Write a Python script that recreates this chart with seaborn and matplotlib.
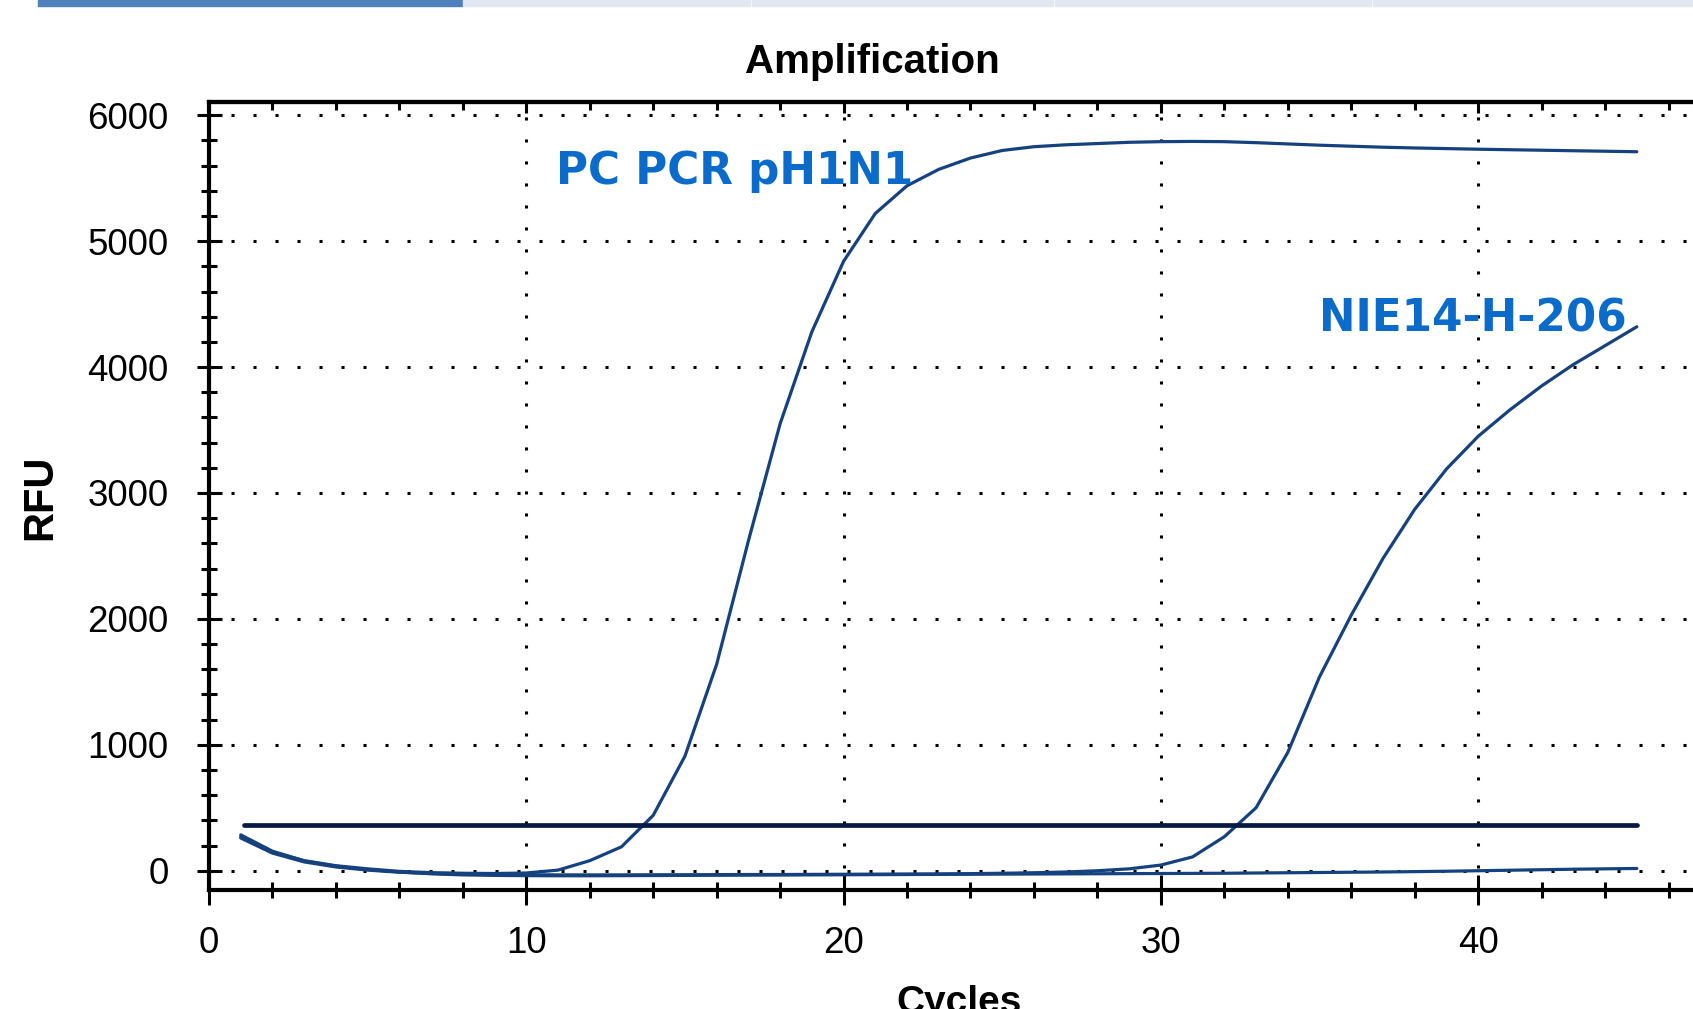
import matplotlib
matplotlib.use("Agg")
import matplotlib.pyplot as plt
import numpy as np
import pandas as pd
import seaborn as sns
from matplotlib.patches import Rectangle
from matplotlib.ticker import MultipleLocator

# ---------------- data ----------------
cycles = list(range(1, 46))
pc_pcr_ph1n1 = [270, 150, 80, 40, 15, -5, -15, -20, -22, -18,
                5, 80, 190, 440, 910, 1640, 2620, 3550, 4280, 4840,
                5220, 5440, 5570, 5660, 5720, 5750, 5765, 5775, 5785, 5790,
                5792, 5790, 5782, 5772, 5762, 5754, 5746, 5740, 5735, 5730,
                5726, 5722, 5718, 5714, 5710]
nie14_h_206 = [260, 140, 70, 30, 5, -12, -22, -28, -30, -32,
               -33, -33, -33, -32, -32, -31, -30, -30, -29, -28,
               -27, -26, -25, -23, -20, -16, -10, 0, 15, 45,
               110, 270, 500, 940, 1540, 2030, 2480, 2870, 3190, 3450,
               3660, 3850, 4020, 4170, 4320]
negative = [285, 155, 78, 36, 10, -10, -24, -33, -37, -39,
            -40, -40, -39, -38, -37, -36, -35, -34, -33, -32,
            -31, -30, -29, -28, -27, -26, -25, -24, -23, -22,
            -21, -20, -18, -16, -14, -12, -10, -7, -4, 0,
            4, 8, 12, 15, 18]
threshold_cycles = [1.1, 45]
threshold_rfu = [362, 362]
series_names = ["PC PCR pH1N1", "NIE14-H-206", "Negative"]
label_pc = "PC PCR pH1N1"
label_nie = "NIE14-H-206"

# ---------------- style ----------------
sns.set_style("white")
plt.rcParams["font.family"] = ["Liberation Sans", "DejaVu Sans"]
for k in ["text.color", "axes.labelcolor", "xtick.color", "ytick.color", "axes.edgecolor"]:
    plt.rcParams[k] = "black"

W, H = 1693, 1009
fig = plt.figure(figsize=(W / 100, H / 100), dpi=100)
ax = fig.add_axes([209 / W, 119 / H, (1732 - 209) / W, 788 / H])

df = pd.DataFrame({
    "Cycles": cycles * 3,
    "RFU": pc_pcr_ph1n1 + nie14_h_206 + negative,
    "sample": [series_names[0]] * 45 + [series_names[1]] * 45 + [series_names[2]] * 45,
})
curve_col = "#15427f"
sns.lineplot(data=df, x="Cycles", y="RFU", hue="sample",
             palette={n: curve_col for n in series_names},
             linewidth=2.3, legend=False, ax=ax, zorder=3)
sns.lineplot(x=threshold_cycles, y=threshold_rfu, color="#071a45",
             linewidth=3.4, ax=ax, zorder=4)

ax.set_xlim(0, 48)
ax.set_ylim(-153, 6105)

ax.xaxis.set_major_locator(MultipleLocator(10))
ax.xaxis.set_minor_locator(MultipleLocator(2))
ax.yaxis.set_major_locator(MultipleLocator(1000))
ax.yaxis.set_minor_locator(MultipleLocator(200))

ax.grid(True, which="major", color="black", linestyle=(0, (1, 6.2)), linewidth=2.2)
ax.set_axisbelow(True)

ax.tick_params(axis="x", which="major", direction="inout", length=21.6, width=2.2,
               pad=15, labelsize=26.5, colors="black", bottom=True)
ax.tick_params(axis="x", which="minor", direction="inout", length=12, width=2.2, bottom=True)
ax.tick_params(axis="y", which="major", direction="inout", length=18, width=2.2,
               pad=20, labelsize=26.5, colors="black", left=True)
ax.tick_params(axis="y", which="minor", direction="inout", length=11, width=2.2, left=True)

for s in ["left", "bottom", "top"]:
    ax.spines[s].set_linewidth(3)
    ax.spines[s].set_color("black")
ax.spines["right"].set_visible(False)

secax = ax.secondary_xaxis("top")
secax.xaxis.set_major_locator(MultipleLocator(10))
secax.xaxis.set_minor_locator(MultipleLocator(2))
secax.tick_params(which="major", direction="in", length=8, width=2.2, labeltop=False)
secax.tick_params(which="minor", direction="in", length=6, width=2.2, labeltop=False)
secax.spines["top"].set_linewidth(3)

ax.set_xlabel("Cycles", fontsize=28, fontweight="bold", color="black")
ax.xaxis.set_label_coords(0.4925, -0.1206)
ax.set_ylabel("RFU", fontsize=30, fontweight="bold", color="black")
ax.yaxis.set_label_coords(-0.0975, 0.4987)
ax.set_title("Amplification", fontsize=29, fontweight="bold", color="black",
             x=0.4353, y=1.0364, pad=0, va="baseline")

label_col = "#0B6BCB"
ax.text(10.95, 5455, label_pc, color=label_col, fontsize=31.5, fontweight="bold",
        family=["DejaVu Sans"], ha="left", va="baseline", zorder=5)
ax.text(34.97, 4281, label_nie, color=label_col, fontsize=31.5, fontweight="bold",
        family=["DejaVu Sans"], ha="left", va="baseline", zorder=5)

# tab strip at the very top of the screenshot
tabs = [(38, 462, "#4F81BD"), (463, 750, "#E3E8F0"), (752, 1053, "#E3E8F0"),
        (1055, 1371, "#E3E8F0"), (1373, 1693, "#E3E8F0")]
for x0, x1, c in tabs:
    fig.patches.append(Rectangle((x0 / W, 1 - 6 / H), (x1 - x0) / W, 6 / H,
                                 transform=fig.transFigure, color=c, zorder=10))

fig.savefig("out.png", dpi=100)
